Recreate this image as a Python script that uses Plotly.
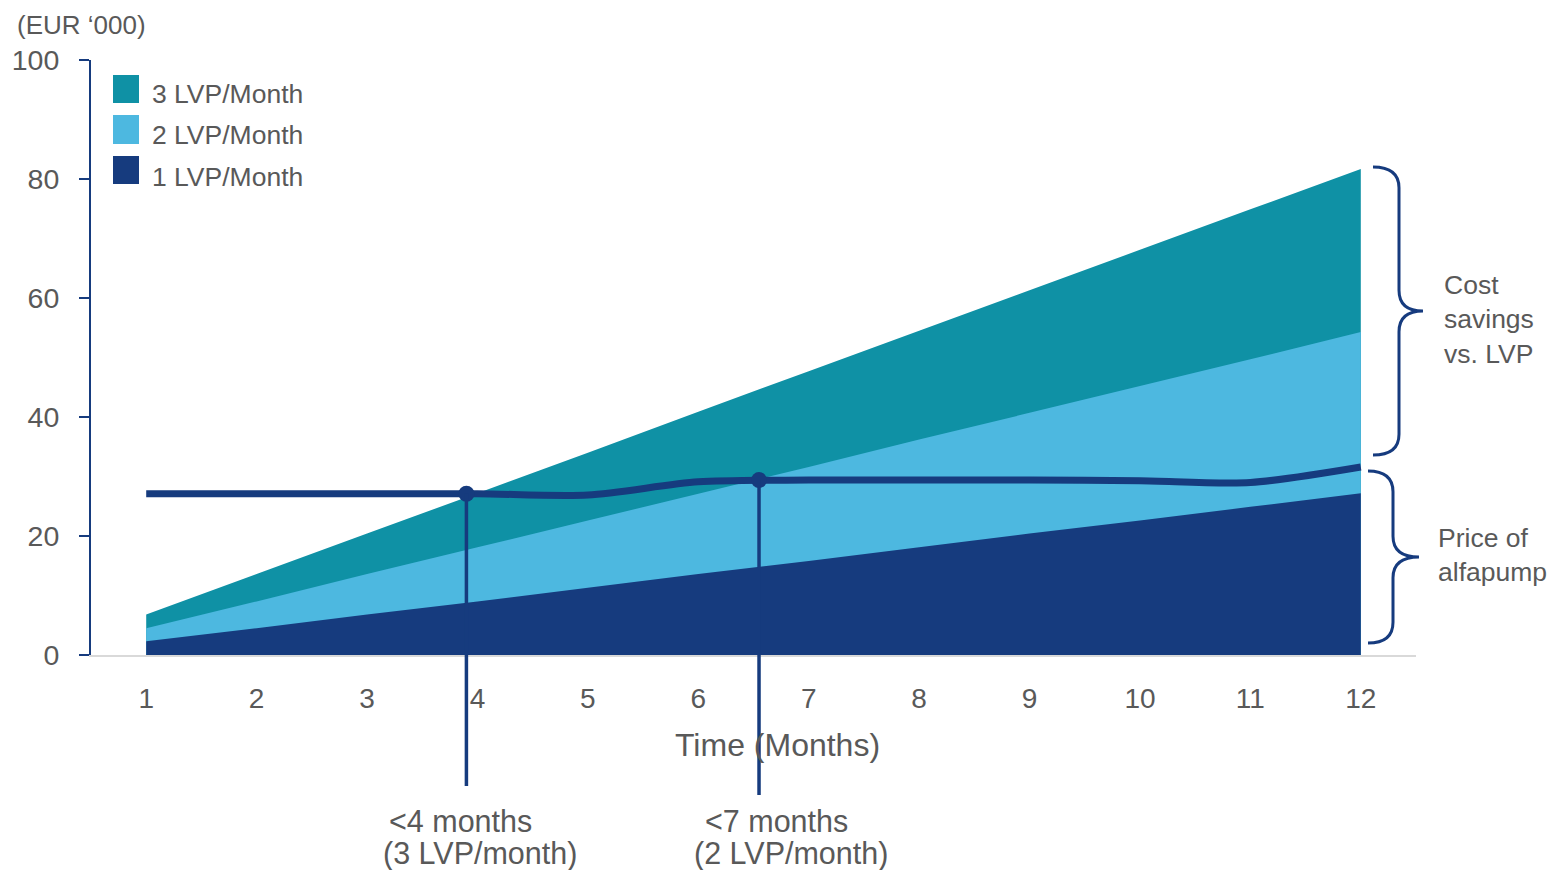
import plotly.graph_objects as go

# ---- data ----
months = [1, 2, 3, 4, 5, 6, 7, 8, 9, 10, 11, 12]
cum_cost_3lvp = [6.8, 13.6, 20.4, 27.2, 34.0, 40.9, 47.7, 54.5, 61.3, 68.1, 74.9, 81.7]
cum_cost_2lvp = [4.5, 9.0, 13.6, 18.1, 22.6, 27.1, 31.6, 36.2, 40.7, 45.2, 49.7, 54.3]
cum_cost_1lvp = [2.3, 4.5, 6.8, 9.0, 11.3, 13.6, 15.8, 18.1, 20.4, 22.6, 24.9, 27.2]
pump_price = [27.1, 27.1, 27.1, 27.1, 26.9, 29.1, 29.4, 29.4, 29.4, 29.3, 29.0, 31.6]

breakeven_x = [3.9, 6.55]
breakeven_y = [27.1, 29.4]
breakeven_text = [["<4 months", "(3 LVP/month)"], ["<7 months", "(2 LVP/month)"]]

series_names = ["3 LVP/Month", "2 LVP/Month", "1 LVP/Month"]
tick_months = months
tick_eur = [0, 20, 40, 60, 80, 100]

# ---- style ----
TEAL = "#0F91A5"
LIGHT = "#4DB8E0"
NAVY = "#163B7E"
GREY_TXT = "#595959"
FONT = "Liberation Sans, Arial, sans-serif"

W, H = 1550, 870
ML, MR, MT, MB = 91, 134, 60, 215
PW, PH = W - ML - MR, H - MT - MB
X_RANGE = [0.5, 12.5]
Y_RANGE = [0, 100]


def xp(x):
    """data x -> paper x"""
    return (x - X_RANGE[0]) / (X_RANGE[1] - X_RANGE[0])


def yp(y):
    """data y -> paper y"""
    return (y - Y_RANGE[0]) / (Y_RANGE[1] - Y_RANGE[0])


def px_x(p):
    """pixel x -> paper x"""
    return (p - ML) / PW


def px_y(p):
    """pixel y -> paper y"""
    return (H - MB - p) / PH


fig = go.Figure()

for vals, color, name in zip([cum_cost_3lvp, cum_cost_2lvp, cum_cost_1lvp],
                             [TEAL, LIGHT, NAVY], series_names):
    fig.add_trace(go.Scatter(x=months, y=vals, mode="none", fill="tozeroy",
                             fillcolor=color, name=name, showlegend=False))

fig.add_trace(go.Scatter(x=months, y=pump_price, mode="lines",
                         line=dict(color=NAVY, width=7, shape="spline", smoothing=0.8),
                         name="Price of alfapump", showlegend=False))

fig.add_trace(go.Scatter(x=breakeven_x, y=breakeven_y, mode="markers",
                         marker=dict(color=NAVY, size=16), showlegend=False,
                         cliponaxis=False))

shapes = []
annotations = []

# break-even drop lines running below the axis
line_ends = [786, 795]
for bx, by, end in zip(breakeven_x, breakeven_y, line_ends):
    shapes.append(dict(type="line", xref="paper", yref="paper",
                       x0=xp(bx), x1=xp(bx), y0=yp(by), y1=px_y(end),
                       line=dict(color=NAVY, width=3.5), layer="above"))

# break-even captions
caption_left = [[387, 381], [703, 692]]
for txt, lefts in zip(breakeven_text, caption_left):
    for line_txt, left, ypos in zip(txt, lefts, [821, 853]):
        annotations.append(dict(text=line_txt, xref="paper", yref="paper",
                                x=px_x(left), y=px_y(ypos), xanchor="left", yanchor="middle",
                                showarrow=False, font=dict(family=FONT, size=30.5, color=GREY_TXT)))


# curly braces on the right
def brace(x_end, x_stem, x_tip, y_top, y_bot, r=0.035):
    ym = (y_top + y_bot) / 2
    return (f"M {x_end},{y_top} Q {x_stem},{y_top} {x_stem},{y_top - r} "
            f"L {x_stem},{ym + r} Q {x_stem},{ym} {x_tip},{ym} "
            f"Q {x_stem},{ym} {x_stem},{ym - r} "
            f"L {x_stem},{y_bot + r} Q {x_stem},{y_bot} {x_end},{y_bot}")


shapes.append(dict(type="path", xref="paper", yref="paper",
                   path=brace(px_x(1373), px_x(1399), px_x(1423), px_y(167), px_y(455)),
                   line=dict(color=NAVY, width=3), fillcolor="rgba(0,0,0,0)"))
shapes.append(dict(type="path", xref="paper", yref="paper",
                   path=brace(px_x(1368), px_x(1393), px_x(1419), px_y(471), px_y(643)),
                   line=dict(color=NAVY, width=3), fillcolor="rgba(0,0,0,0)"))

annotations.append(dict(text="Cost<br>savings<br>vs. LVP", xref="paper", yref="paper",
                        x=px_x(1442), y=px_y(319), xanchor="left", yanchor="middle", align="left",
                        showarrow=False, font=dict(family=FONT, size=26.5, color=GREY_TXT)))
annotations.append(dict(text="Price of<br>alfapump", xref="paper", yref="paper",
                        x=px_x(1436), y=px_y(555), xanchor="left", yanchor="middle", align="left",
                        showarrow=False, font=dict(family=FONT, size=26.5, color=GREY_TXT)))

# legend swatches
legend_rows = [(75, 103, 94), (115, 144, 135), (156, 184, 177)]
for (top, bot, mid), color, name in zip(legend_rows, [TEAL, LIGHT, NAVY], series_names):
    shapes.append(dict(type="rect", xref="paper", yref="paper",
                       x0=px_x(113), x1=px_x(139), y0=px_y(bot), y1=px_y(top),
                       fillcolor=color, line=dict(width=0)))
    annotations.append(dict(text=name, xref="paper", yref="paper",
                            x=px_x(150), y=px_y(mid), xanchor="left", yanchor="middle",
                            showarrow=False, font=dict(family=FONT, size=26.5, color=GREY_TXT)))

# unit label and axis title
annotations.append(dict(text="(EUR \u2018000)", xref="paper", yref="paper",
                        x=px_x(15), y=px_y(25), xanchor="left", yanchor="middle",
                        showarrow=False, font=dict(family=FONT, size=26, color=GREY_TXT)))
annotations.append(dict(text="Time (Months)", xref="paper", yref="paper",
                        x=px_x(777), y=px_y(745), xanchor="center", yanchor="middle",
                        showarrow=False, font=dict(family=FONT, size=32, color=GREY_TXT)))

fig.update_layout(
    width=W, height=H,
    margin=dict(l=ML, r=MR, t=MT, b=MB),
    plot_bgcolor="white", paper_bgcolor="white",
    shapes=shapes, annotations=annotations,
    showlegend=False,
    xaxis=dict(range=X_RANGE, tickvals=tick_months, showgrid=False, zeroline=False,
               showline=True, linecolor="#D9D9D9", linewidth=2,
               ticks="outside", ticklen=17, tickcolor="rgba(0,0,0,0)",
               tickfont=dict(family=FONT, size=28, color=GREY_TXT)),
    yaxis=dict(range=Y_RANGE, tickvals=tick_eur, showgrid=False, zeroline=False,
               showline=True, linecolor=NAVY, linewidth=2,
               ticks="outside", ticklen=10, tickwidth=2, tickcolor=NAVY,
               ticklabelstandoff=14,
               tickfont=dict(family=FONT, size=28.5, color=GREY_TXT)),
)

fig.write_html("out.html")
